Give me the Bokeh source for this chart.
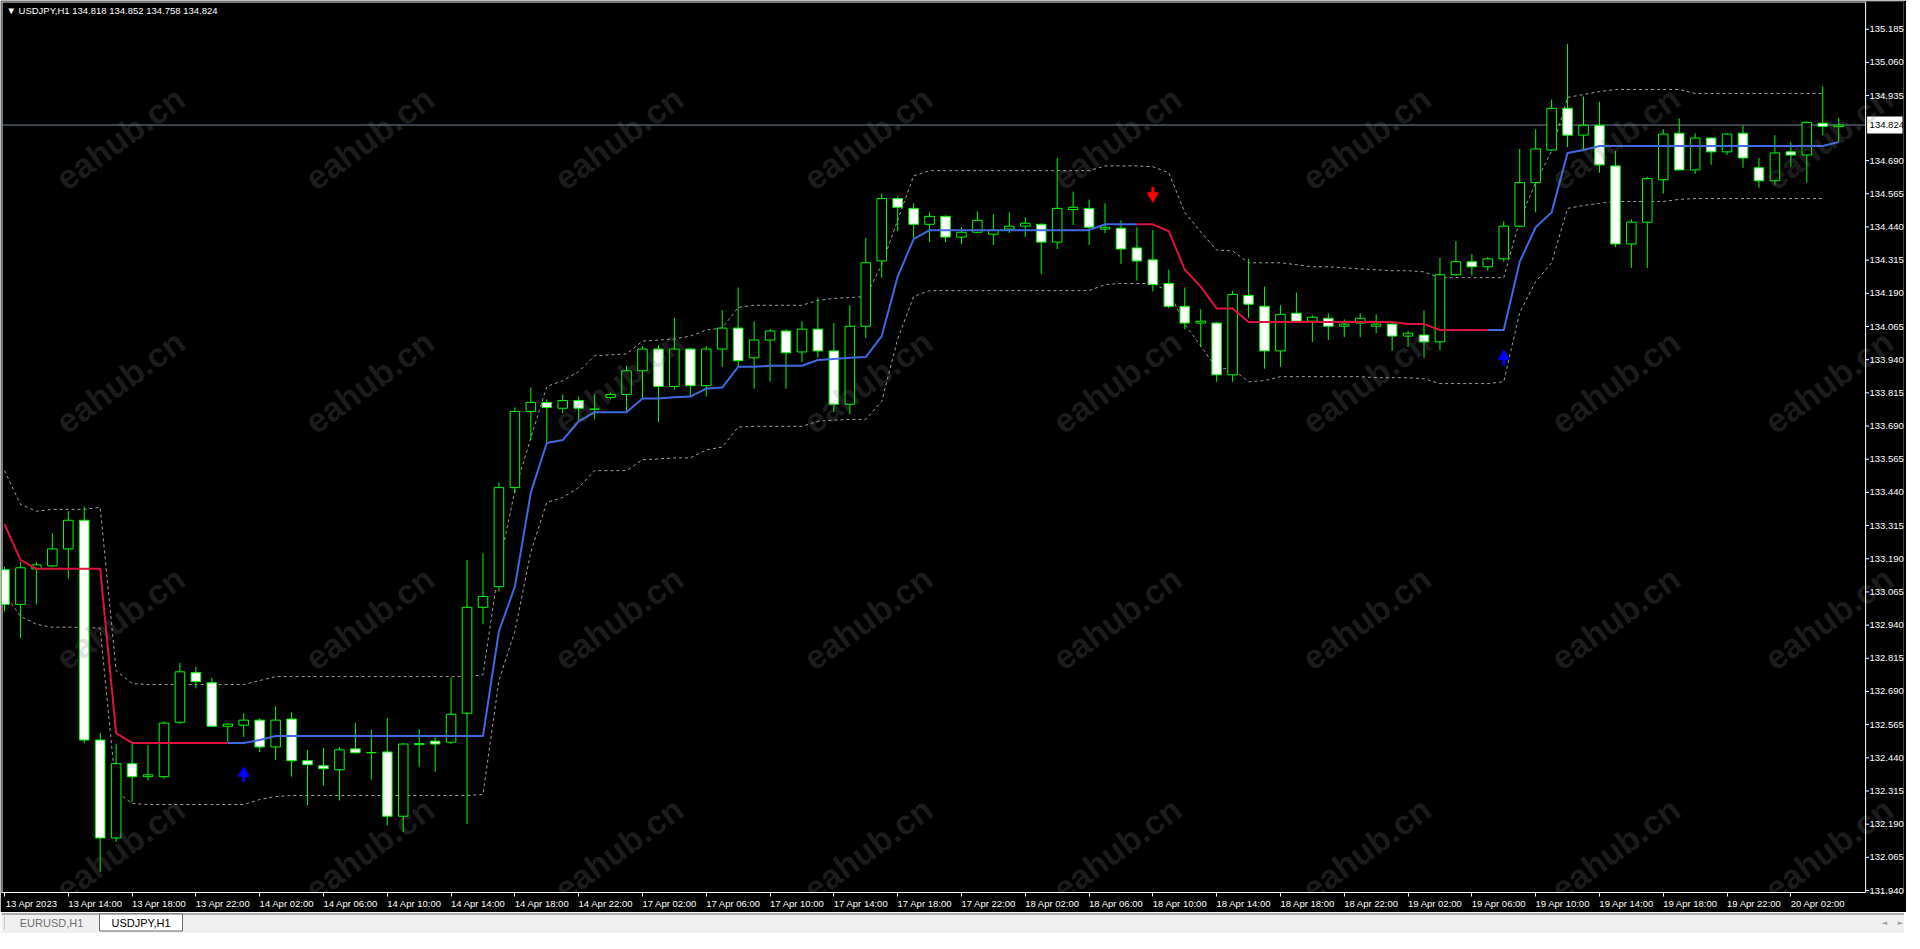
from bokeh.plotting import figure
from bokeh.models import Range1d, FixedTicker, Span, Label, ColumnDataSource, PrintfTickFormatter
from bokeh.layouts import column
from bokeh.embed import file_html
from bokeh.resources import INLINE
from bokeh.core.properties import value

# ---------------- data ----------------
symbol = "USDJPY,H1"
title_ohlc = ["134.818", "134.852", "134.758", "134.824"]
bid = 134.824

opens = [133.149, 133.018, 133.152, 133.163, 133.227, 133.335, 132.507, 132.138, 132.418, 132.369,
         132.369, 132.574, 132.761, 132.723, 132.559, 132.563, 132.582, 132.481, 132.586, 132.429,
         132.410, 132.395, 132.474, 132.459, 132.462, 132.220, 132.490, 132.503, 132.499, 132.608,
         133.007, 133.085, 133.458, 133.745, 133.779, 133.757, 133.786, 133.753, 133.798, 133.809,
         133.898, 133.980, 133.839, 133.980, 133.842, 133.980, 134.059, 133.947, 134.014, 134.048,
         133.969, 134.055, 133.973, 133.772, 134.066, 134.312, 134.547, 134.510, 134.450, 134.480,
         134.402, 134.420, 134.413, 134.432, 134.443, 134.450, 134.383, 134.506, 134.510, 134.432,
         134.435, 134.361, 134.316, 134.227, 134.141, 134.078, 134.078, 133.883, 134.182, 134.141,
         133.973, 134.115, 134.085, 134.096, 134.066, 134.078, 134.066, 134.074, 134.029, 134.033,
         134.007, 134.260, 134.309, 134.290, 134.320, 134.443, 134.607, 134.730, 134.887, 134.786,
         134.823, 134.670, 134.376, 134.458, 134.618, 134.793, 134.655, 134.775, 134.723, 134.793,
         134.663, 134.614, 134.723, 134.711, 134.831, 134.818]
highs = [133.160, 133.178, 133.178, 133.286, 133.369, 133.387, 132.533, 132.492, 132.492, 132.488,
         132.578, 132.798, 132.783, 132.742, 132.571, 132.608, 132.589, 132.634, 132.612, 132.470,
         132.477, 132.481, 132.571, 132.545, 132.589, 132.496, 132.548, 132.518, 132.742, 133.186,
         133.212, 133.477, 133.760, 133.835, 133.790, 133.809, 133.801, 133.809, 133.816, 133.917,
         133.991, 133.995, 134.098, 133.984, 133.991, 134.126, 134.212, 134.085, 134.055, 134.055,
         134.085, 134.174, 134.078, 134.145, 134.398, 134.566, 134.555, 134.529, 134.495, 134.484,
         134.439, 134.499, 134.488, 134.495, 134.476, 134.454, 134.700, 134.573, 134.543, 134.529,
         134.465, 134.439, 134.428, 134.279, 134.212, 134.130, 134.082, 134.200, 134.320, 134.215,
         134.145, 134.193, 134.107, 134.115, 134.092, 134.115, 134.111, 134.078, 134.048, 134.126,
         134.324, 134.387, 134.338, 134.327, 134.462, 134.734, 134.808, 134.920, 135.129, 134.931,
         134.912, 134.726, 134.469, 134.629, 134.808, 134.849, 134.793, 134.778, 134.793, 134.823,
         134.700, 134.786, 134.760, 134.838, 134.969, 134.852]
lows = [132.992, 132.891, 133.018, 133.160, 133.115, 132.496, 132.011, 132.123, 132.272, 132.354,
        132.361, 132.567, 132.701, 132.556, 132.499, 132.518, 132.462, 132.432, 132.369, 132.261,
        132.336, 132.279, 132.458, 132.358, 132.186, 132.160, 132.406, 132.388, 132.492, 132.190,
        132.943, 133.067, 133.436, 133.637, 133.626, 133.738, 133.712, 133.715, 133.790, 133.745,
        133.794, 133.705, 133.827, 133.801, 133.801, 133.913, 133.913, 133.831, 133.857, 133.831,
        133.932, 133.947, 133.742, 133.734, 134.022, 134.249, 134.424, 134.398, 134.383, 134.383,
        134.376, 134.417, 134.372, 134.417, 134.402, 134.264, 134.357, 134.447, 134.372, 134.417,
        134.301, 134.238, 134.197, 134.133, 134.055, 133.988, 133.857, 133.857, 134.098, 133.906,
        133.913, 134.082, 134.007, 134.014, 134.025, 134.025, 134.040, 133.973, 133.988, 133.947,
        133.976, 134.256, 134.256, 134.275, 134.309, 134.439, 134.495, 134.726, 134.741, 134.730,
        134.644, 134.364, 134.286, 134.286, 134.566, 134.652, 134.640, 134.674, 134.711, 134.663,
        134.588, 134.599, 134.667, 134.607, 134.786, 134.758]
closes = [133.018, 133.156, 133.167, 133.227, 133.335, 132.507, 132.138, 132.418, 132.369, 132.376,
          132.571, 132.764, 132.727, 132.559, 132.567, 132.582, 132.481, 132.582, 132.429, 132.414,
          132.399, 132.470, 132.459, 132.460, 132.220, 132.492, 132.494, 132.492, 132.604, 133.007,
          133.048, 133.458, 133.745, 133.779, 133.760, 133.786, 133.757, 133.754, 133.809, 133.898,
          133.980, 133.839, 133.980, 133.842, 133.980, 134.059, 133.936, 134.014, 134.048, 133.966,
          134.055, 133.973, 133.772, 134.066, 134.305, 134.547, 134.514, 134.450, 134.480, 134.402,
          134.420, 134.465, 134.428, 134.443, 134.454, 134.383, 134.510, 134.514, 134.439, 134.439,
          134.357, 134.312, 134.223, 134.141, 134.078, 134.085, 133.883, 134.186, 134.149, 133.973,
          134.111, 134.085, 134.100, 134.066, 134.074, 134.096, 134.074, 134.029, 134.040, 134.007,
          134.260, 134.309, 134.290, 134.320, 134.443, 134.607, 134.734, 134.887, 134.786, 134.823,
          134.674, 134.376, 134.458, 134.622, 134.790, 134.655, 134.775, 134.723, 134.790, 134.700,
          134.614, 134.719, 134.711, 134.834, 134.819, 134.824]

mid = [133.320, 133.186, 133.152, 133.152, 133.152, 133.152, 133.152, 132.533, 132.496, 132.496,
       132.496, 132.496, 132.496, 132.496, 132.496, 132.496, 132.507, 132.522, 132.522, 132.522,
       132.522, 132.522, 132.522, 132.522, 132.522, 132.522, 132.522, 132.522, 132.522, 132.522,
       132.522, 132.917, 133.085, 133.440, 133.626, 133.637, 133.708, 133.742, 133.742, 133.742,
       133.794, 133.794, 133.798, 133.801, 133.831, 133.835, 133.913, 133.913, 133.917, 133.917,
       133.917, 133.939, 133.943, 133.947, 133.950, 134.029, 134.253, 134.394, 134.428, 134.428,
       134.428, 134.428, 134.428, 134.428, 134.428, 134.428, 134.428, 134.428, 134.428, 134.450,
       134.450, 134.450, 134.450, 134.424, 134.279, 134.215, 134.133, 134.133, 134.082, 134.082,
       134.082, 134.082, 134.082, 134.082, 134.082, 134.082, 134.082, 134.082, 134.074, 134.074,
       134.052, 134.052, 134.052, 134.052, 134.052, 134.309, 134.439, 134.495, 134.719, 134.730,
       134.745, 134.745, 134.745, 134.745, 134.745, 134.745, 134.745, 134.745, 134.745, 134.745,
       134.745, 134.745, 134.745, 134.745, 134.745, 134.760]
trend = [-1, -1, -1, -1, -1, -1, -1, -1, -1, -1, -1, -1, -1, -1, -1,
         1, 1, 1, 1, 1, 1, 1, 1, 1, 1, 1, 1, 1, 1, 1, 1, 1, 1, 1, 1,
         1, 1, 1, 1, 1, 1, 1, 1, 1, 1, 1, 1, 1, 1, 1, 1, 1, 1, 1, 1,
         1, 1, 1, 1, 1, 1, 1, 1, 1, 1, 1, 1, 1, 1, 1, 1, 1,
         -1, -1, -1, -1, -1, -1, -1, -1, -1, -1, -1, -1, -1, -1, -1, -1, -1, -1, -1, -1, -1, -1,
         1, 1, 1, 1, 1, 1, 1, 1, 1, 1, 1, 1, 1, 1, 1, 1, 1, 1, 1, 1, 1, 1]
nan = float("nan")
upper = [133.522, 133.395, 133.369, 133.376, 133.376, 133.376, 133.384, 132.768, 132.720, 132.716,
         132.716, 132.716, 132.716, 132.716, 132.716, 132.716, 132.731, 132.746, 132.746, 132.746,
         132.746, 132.746, 132.746, 132.746, 132.746, 132.746, 132.746, 132.746, 132.746, 132.746,
         132.753, 133.160, 133.447, 133.645, 133.839, 133.861, 133.895, 133.955, 133.958, 133.962,
         134.010, 134.014, 134.018, 134.029, 134.052, 134.059, 134.137, 134.145, 134.145, 134.145,
         134.145, 134.163, 134.171, 134.174, 134.178, 134.298, 134.465, 134.633, 134.652, 134.652,
         134.652, 134.652, 134.652, 134.652, 134.652, 134.652, 134.652, 134.652, 134.652, 134.670,
         134.670, 134.670, 134.667, 134.644, 134.495, 134.421, 134.353, 134.350, 134.305, 134.305,
         134.305, 134.298, 134.290, 134.290, 134.286, 134.282, 134.279, 134.275, 134.275, 134.271,
         134.249, 134.249, 134.249, 134.249, 134.249, 134.465, 134.607, 134.726, 134.928, 134.939,
         134.950, 134.958, 134.958, 134.958, 134.958, 134.958, 134.943, 134.943, 134.943, 134.943,
         134.943, 134.943, 134.943, 134.943, 134.943, nan]
lower = [133.059, 132.973, 132.943, 132.932, 132.932, 132.932, 132.928, 132.313, 132.268, 132.264,
         132.264, 132.264, 132.264, 132.264, 132.264, 132.264, 132.283, 132.294, 132.298, 132.298,
         132.298, 132.298, 132.298, 132.298, 132.298, 132.298, 132.298, 132.298, 132.298, 132.298,
         132.302, 132.731, 132.917, 133.216, 133.402, 133.421, 133.458, 133.522, 133.522, 133.522,
         133.563, 133.566, 133.570, 133.570, 133.600, 133.611, 133.686, 133.689, 133.689, 133.689,
         133.689, 133.708, 133.712, 133.715, 133.715, 133.783, 134.018, 134.178, 134.200, 134.200,
         134.200, 134.200, 134.200, 134.200, 134.200, 134.200, 134.200, 134.200, 134.200, 134.223,
         134.227, 134.227, 134.227, 134.197, 134.074, 133.992, 133.906, 133.906, 133.857, 133.861,
         133.876, 133.876, 133.876, 133.876, 133.876, 133.876, 133.872, 133.872, 133.872, 133.868,
         133.850, 133.850, 133.850, 133.850, 133.857, 134.118, 134.234, 134.305, 134.510, 134.521,
         134.529, 134.536, 134.536, 134.536, 134.536, 134.544, 134.547, 134.547, 134.547, 134.547,
         134.547, 134.547, 134.547, 134.547, 134.547, nan]

arrow_up_bar = [15, 94]
arrow_up_price = [132.373, 133.943]
arrow_dn_bar = [72]
arrow_dn_price = [134.566]

x_tick_bars = [0, 4, 8, 12, 16, 20, 24, 28, 32, 36, 40, 44, 48, 52, 56, 60, 64, 68, 72, 76,
               80, 84, 88, 92, 96, 100, 104, 108, 112]
x_tick_labels = ["13 Apr 2023", "13 Apr 14:00", "13 Apr 18:00", "13 Apr 22:00", "14 Apr 02:00",
                 "14 Apr 06:00", "14 Apr 10:00", "14 Apr 14:00", "14 Apr 18:00", "14 Apr 22:00",
                 "17 Apr 02:00", "17 Apr 06:00", "17 Apr 10:00", "17 Apr 14:00", "17 Apr 18:00",
                 "17 Apr 22:00", "18 Apr 02:00", "18 Apr 06:00", "18 Apr 10:00", "18 Apr 14:00",
                 "18 Apr 18:00", "18 Apr 22:00", "19 Apr 02:00", "19 Apr 06:00", "19 Apr 10:00",
                 "19 Apr 14:00", "19 Apr 18:00", "19 Apr 22:00", "20 Apr 02:00"]
y_ticks = [131.940, 132.065, 132.190, 132.315, 132.440, 132.565, 132.690, 132.815, 132.940,
           133.065, 133.190, 133.315, 133.440, 133.565, 133.690, 133.815, 133.940, 134.065,
           134.190, 134.315, 134.440, 134.565, 134.690, 134.935, 135.060, 135.185]
tab_names = ["EURUSD,H1", "USDJPY,H1"]
watermark = "eahub.cn"

# ---------------- layout helpers (reference pixel grid -> data) ----------------
FONT = "Liberation Sans"
PX_X0, PX_PER_BAR = 6.0, 16.0
PX_Y0, PRICE_Y0, PX_PER_PRICE = 32.0, 135.185, 268.11


def bar_of(px):
    return (px - PX_X0) / PX_PER_BAR


def price_of(py):
    return PRICE_Y0 - (py - PX_Y0) / PX_PER_PRICE


x_lo, x_hi = bar_of(3), bar_of(1911)      # frame covers chart + price scale
x_scale_edge = bar_of(1873)               # price-scale separator
y_lo, y_hi = price_of(904), price_of(4)

n = len(opens)
bars = list(range(n))

p = figure(frame_width=1902, frame_height=891,
           x_range=Range1d(x_lo, x_hi), y_range=Range1d(y_lo, y_hi),
           output_backend="svg", toolbar_location=None, y_axis_location="right",
           min_border_left=1, min_border_right=1, min_border_top=1, min_border_bottom=20,
           background_fill_color="black", border_fill_color="black",
           outline_line_color=None)
p.grid.visible = False

# x axis: labels to the right of the tick marks (minor ticks = MT4 tick marks)
LABEL_SHIFT = 1.7
label_pos = [b + LABEL_SHIFT for b in x_tick_bars]
xa = p.xaxis[0]
xa.ticker = FixedTicker(ticks=label_pos, minor_ticks=x_tick_bars)
xa.major_label_overrides = {pos: lab for pos, lab in zip(label_pos, x_tick_labels)}
xa.bounds = (x_lo, x_scale_edge)
xa.axis_line_color = "white"
xa.major_tick_line_color = None
xa.major_tick_out = 4
xa.major_tick_in = 0
xa.minor_tick_line_color = "white"
xa.minor_tick_out = 4
xa.minor_tick_in = 0
xa.major_label_standoff = 1
xa.major_label_text_color = "white"
xa.major_label_text_font = FONT
xa.major_label_text_font_size = "9.5px"

# y axis sits at the window edge; its labels are pulled back into the price scale
ya = p.yaxis[0]
ya.ticker = FixedTicker(ticks=y_ticks, minor_ticks=[])
ya.formatter = PrintfTickFormatter(format="%.3f")
ya.axis_line_color = None
ya.major_tick_line_color = None
ya.major_tick_out = 0
ya.major_tick_in = 0
ya.minor_tick_line_color = None
ya.major_label_standoff = -34
ya.major_label_text_color = "white"
ya.major_label_text_font = FONT
ya.major_label_text_font_size = "9.5px"

# frame lines (left, top) and price-scale separator
p.segment(x0=[bar_of(3.5)], y0=[y_lo], x1=[bar_of(3.5)], y1=[y_hi], line_color="white", line_width=1)
p.segment(x0=[x_lo], y0=[price_of(4.5)], x1=[x_scale_edge], y1=[price_of(4.5)],
          line_color="white", line_width=1)
p.add_layout(Span(location=x_scale_edge, dimension="height", line_color="white", line_width=1))
# price-scale tick marks
p.segment(x0=[x_scale_edge] * len(y_ticks), y0=y_ticks,
          x1=[bar_of(1876.5)] * len(y_ticks), y1=y_ticks, line_color="white", line_width=1)

# bid line
p.segment(x0=[x_lo], y0=[bid], x1=[x_scale_edge], y1=[bid], line_color="#778899", line_width=1)

# bands
p.line(bars, upper, line_color="#a0a0a0", line_width=1, line_dash="3 3")
p.line(bars, lower, line_color="#a0a0a0", line_width=1, line_dash="3 3")

# candles
src = ColumnDataSource(dict(
    x=bars, o=opens, h=highs, l=lows, c=closes,
    top=[max(a, b) for a, b in zip(opens, closes)],
    bottom=[min(a, b) for a, b in zip(opens, closes)],
    fill=["black" if c >= o else "white" for o, c in zip(opens, closes)],
))
p.segment(x0="x", y0="l", x1="x", y1="h", source=src, line_color="#00ff00", line_width=1)
p.vbar(x="x", width=0.6, top="top", bottom="bottom", source=src,
       fill_color="fill", line_color="#00ff00", line_width=1)

# middle line, coloured by trend
runs = []
start = 0
for i in range(1, n + 1):
    if i == n or trend[i] != trend[start]:
        runs.append((start, i - 1, trend[start]))
        start = i
for s, e, t in runs:
    s0 = max(s - 1, 0)
    p.line(bars[s0:e + 1], mid[s0:e + 1], line_width=2,
           line_color="#4169e1" if t > 0 else "#dc143c")

# arrows: triangle head + stem
d = 1.0 / PX_PER_PRICE
p.scatter(x=arrow_up_bar, y=[v + 2.5 * d for v in arrow_up_price], marker="triangle",
          size=11, fill_color="#0000ff", line_color="#0000ff")
p.rect(x=arrow_up_bar, y=[v - 3.5 * d for v in arrow_up_price], width=3, height=6,
       width_units="screen", height_units="screen", fill_color="#0000ff", line_color=None)
p.scatter(x=arrow_dn_bar, y=[v - 2.5 * d for v in arrow_dn_price], marker="inverted_triangle",
          size=11, fill_color="#ff0000", line_color="#ff0000")
p.rect(x=arrow_dn_bar, y=[v + 3.5 * d for v in arrow_dn_price], width=3, height=6,
       width_units="screen", height_units="screen", fill_color="#ff0000", line_color=None)

# price box for the bid on the price scale
p.quad(left=[bar_of(1874.5)], right=[bar_of(1910)], top=[bid + 8.5 * d], bottom=[bid - 8.5 * d],
       fill_color="white", line_color=None)
p.text(x=[bar_of(1877)], y=[bid], text=["%.3f" % bid], text_color="black",
       text_font=value(FONT), text_font_size="9.5px", text_align="left", text_baseline="middle")

# watermark (semi-transparent, on top)
wm_cols = [122, 372, 622, 872, 1122, 1372, 1622, 1836]
wm_x, wm_y = [], []
for py in (142, 388, 627, 860):
    for px in wm_cols:
        wm_x.append(bar_of(px))
        wm_y.append(price_of(py))
p.text(x=wm_x, y=wm_y, text=[watermark] * len(wm_x), angle=36, angle_units="deg",
       text_color="#808080", text_alpha=0.22, text_font=value(FONT),
       text_font_style="bold", text_font_size="34px",
       text_align="center", text_baseline="middle")

# title
p.add_layout(Label(x=bar_of(8), y=price_of(13.5),
                   text="\u25bc  " + symbol + "  " + " ".join(title_ohlc),
                   text_color="white", text_font=FONT, text_font_size="9.5px",
                   text_baseline="middle", text_align="left"))

# ---------------- tab bar ----------------
t = figure(frame_width=1904, frame_height=21, x_range=Range1d(1, 1905), y_range=Range1d(21, 0),
           output_backend="svg", toolbar_location=None, x_axis_location=None,
           y_axis_location=None, min_border=0, outline_line_color=None,
           background_fill_color="#f0f0f0", border_fill_color="#f0f0f0")
t.grid.visible = False
t.segment(x0=[1], y0=[1.5], x1=[1905], y1=[1.5], line_color="#696969", line_width=1)
t.quad(left=[99], right=[182], top=[1.5], bottom=[18.5], fill_color="white",
       line_color="#696969", line_width=1)
t.segment(x0=[4], y0=[3], x1=[4], y1=[18], line_color="#c8c8c8", line_width=1)
t.text(x=[51, 140.5], y=[10.5, 10.5], text=tab_names, text_color=["#6d6d6d", "black"],
       text_font=value(FONT), text_font_size="11px", text_align="center",
       text_baseline="middle")
t.text(x=[1884, 1900], y=[10.5, 10.5], text=["\u25c4", "\u25ba"], text_color="#a0a0a0",
       text_font=value("DejaVu Sans"), text_font_size="7px", text_align="center",
       text_baseline="middle")

layout = column(p, t, spacing=0)
open("out.html", "w").write(file_html(layout, INLINE))
